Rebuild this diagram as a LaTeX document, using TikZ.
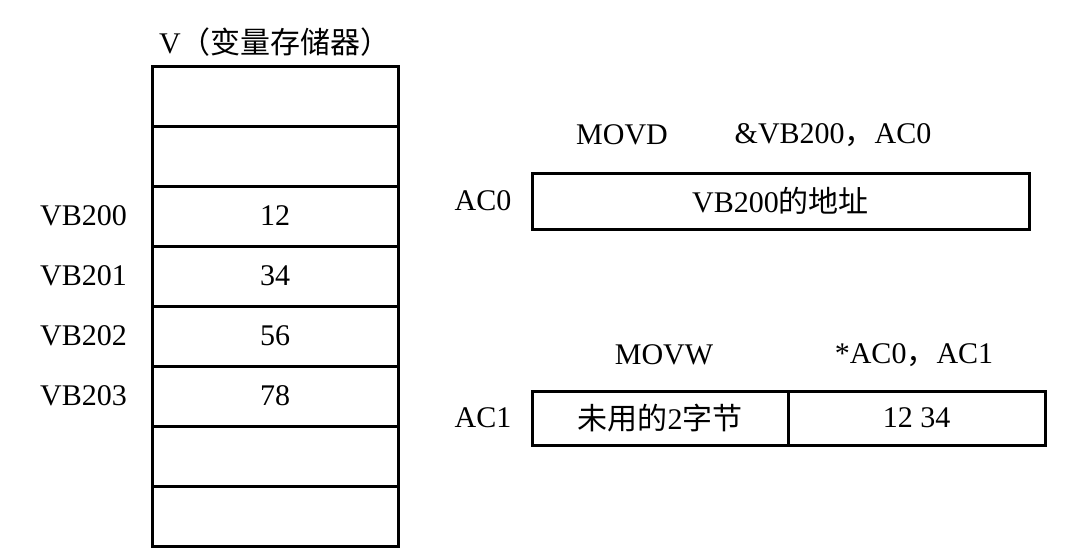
\documentclass[tikz,border=0pt]{standalone}
\usepackage{fontspec}
\setmainfont{Liberation Serif}
\newfontfamily\cjk{Noto Sans CJK SC}
\begin{document}
\begin{tikzpicture}[x=1pt,y=-1pt,
  every node/.style={font=\fontsize{30}{30}\selectfont},
  cell/.style={draw, line width=3pt, inner sep=0pt, minimum width=246pt, minimum height=60pt},
  reg/.style={draw, line width=3pt, inner sep=0pt},
  lbl/.style={inner sep=0pt}]
\useasboundingbox (0,0) rectangle (1076,557);
\node[lbl] (title) at (275,42) {V{\cjk （变量存储器）}};
\node[cell] (c1) at (275,96) {};
\node[cell] (c2) at (275,156) {};
\node[cell] (c3) at (275,216) {12};
\node[cell] (c4) at (275,276) {34};
\node[cell] (c5) at (275,336) {56};
\node[cell] (c6) at (275,396) {78};
\node[cell] (c7) at (275,456) {};
\node[cell] (c8) at (275,516) {};
\node[lbl, anchor=west] (l3) at (40,216) {VB200};
\node[lbl, anchor=west] (l4) at (40,276) {VB201};
\node[lbl, anchor=west] (l5) at (40,336) {VB202};
\node[lbl, anchor=west] (l6) at (40,396) {VB203};
\node[lbl] (movd) at (622,135) {MOVD};
\node[lbl] (movdarg) at (833,135) {\&VB200{\cjk ，}AC0};
\node[lbl] (ac0l) at (483,201) {AC0};
\node[reg, minimum width=497pt, minimum height=56pt] (ac0) at (780.5,201) {VB200{\cjk 的地址}};
\node[lbl] (movw) at (664,355) {MOVW};
\node[lbl] (movwarg) at (914,355) {*AC0{\cjk ，}AC1};
\node[lbl] (ac1l) at (483,418) {AC1};
\node[reg, minimum width=256pt, minimum height=54pt] (ac1a) at (660,418) {{\cjk 未用的}2{\cjk 字节}};
\node[reg, minimum width=257pt, minimum height=54pt] (ac1b) at (916.5,418) {12 34};
\end{tikzpicture}
\end{document}
